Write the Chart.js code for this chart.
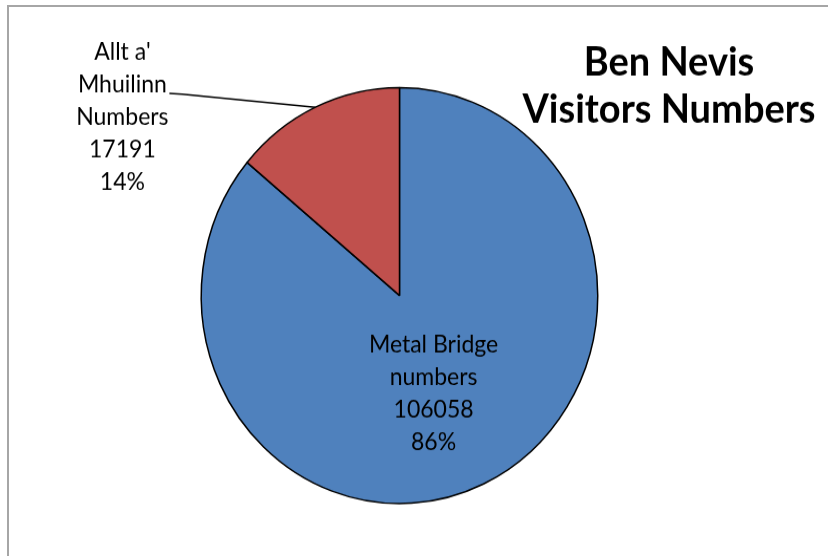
<!DOCTYPE html>
<html>
<head>
<meta charset="utf-8">
<script src="https://cdn.jsdelivr.net/npm/chart.js@4.4.0/dist/chart.umd.min.js"></script>
<style>
  html, body { margin: 0; background: #fff; width: 828px; height: 556px; overflow: hidden; }
  #frame { position: absolute; left: 7px; top: 5px; width: 900px; height: 700px; border: 2px solid #a6a6a6; }
  /* the original picture is a little taller than wide, so stretch it */
  #wrap { position: absolute; left: 0; top: 0; width: 828px; height: 530px; transform: scaleY(1.0491); transform-origin: 0 0; }
</style>
</head>
<body>
<div id="frame"></div>
<div id="wrap"><canvas id="myChart"></canvas></div>
<script>
var title = ["Ben Nevis", "Visitors Numbers"];
var categories = [["Metal Bridge", "numbers"], ["Allt a'", "Mhuilinn", "Numbers"]];
var visitors = [106058, 17191];
var sliceColors = ["#4F81BD", "#C0504D"];

function pct(i) {
  var total = visitors.reduce((a, b) => a + b, 0);
  return Math.round((visitors[i] / total) * 100) + "%";
}

function drawLines(ctx, lines, x, y, step) {
  var top = y - ((lines.length - 1) * step) / 2;
  lines.forEach((line, i) => {
    ctx.fillText(String(line), x, top + i * step);
  });
}

var pieLabels = {
  id: "pieLabels",
  afterDraw: function (chart) {
    var ctx = chart.ctx;
    var arcs = chart.getDatasetMeta(0).data;
    ctx.save();
    ctx.fillStyle = "#000";
    ctx.textAlign = "center";
    ctx.textBaseline = "middle";
    ctx.font = "23px Lato";

    // big slice: label inside
    var p = arcs[0].tooltipPosition();
    drawLines(ctx, categories[0].concat([visitors[0], pct(0)]), p.x - 8, p.y + 4, 31);

    // small slice: label outside with a leader line
    var a1 = arcs[1];
    var mid = (a1.startAngle + a1.endAngle) / 2;
    var ex = a1.x + a1.outerRadius * Math.cos(mid);
    var ey = a1.y + a1.outerRadius * Math.sin(mid);
    ctx.strokeStyle = "#000";
    ctx.lineWidth = 1.5;
    ctx.beginPath();
    ctx.moveTo(ex, ey);
    ctx.lineTo(ex - 133, ey - 12.4);
    ctx.lineTo(ex - 146, ey - 13.3);
    ctx.stroke();
    drawLines(ctx, categories[1].concat([visitors[1], pct(1)]), ex - 193, ey + 9, 31);

    // title
    ctx.font = "bold 38px Lato";
    ctx.fillText(title[0], 669, 60);
    ctx.fillText(title[1], 669, 105);
    ctx.restore();
  }
};

var ctx = document.getElementById("myChart").getContext("2d");
var myChart = new Chart(ctx, {
  type: "pie",
  data: {
    labels: categories.map((c) => c.join(" ")),
    datasets: [
      {
        data: visitors,
        backgroundColor: sliceColors,
        borderColor: "#000",
        borderWidth: 1.5,
      },
    ],
  },
  options: {
    responsive: true,
    maintainAspectRatio: false,
    animation: false,
    layout: { padding: { left: 200.5, right: 229.5, top: 82.7, bottom: 49.3 } },
    plugins: {
      legend: { display: false },
      tooltip: { enabled: false },
      title: { display: false },
    },
  },
  plugins: [pieLabels],
});
</script>
</body>
</html>
